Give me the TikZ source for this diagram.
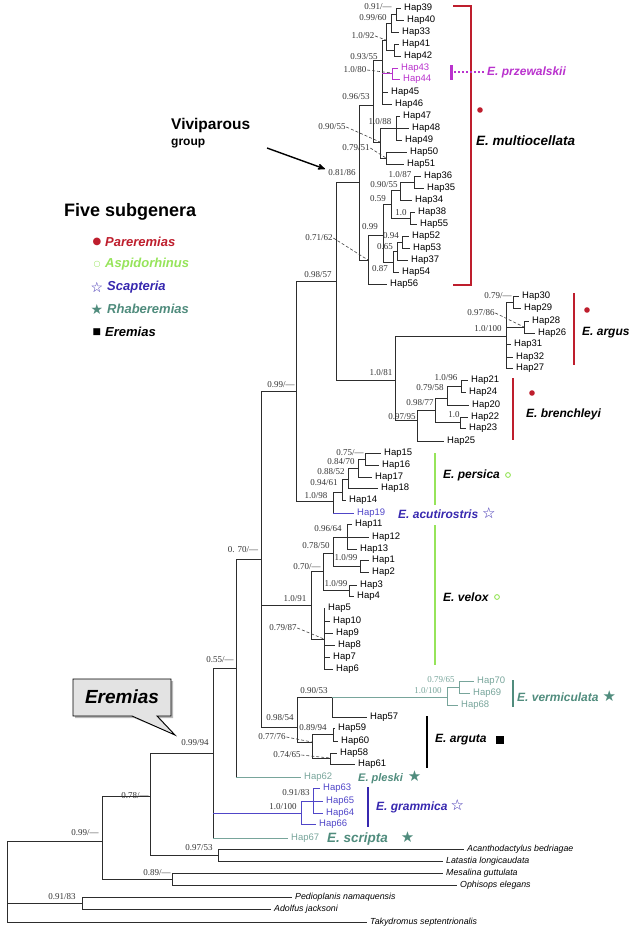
\documentclass[tikz,border=0pt]{standalone}
\usepackage{fontspec}
\setmainfont{Liberation Serif}
\setsansfont{Liberation Sans}
\newfontfamily\symfont{DejaVu Sans}
\usepackage{xcolor}
\usetikzlibrary{arrows}

\definecolor{parred}{RGB}{190,30,45}
\definecolor{aspgreen}{RGB}{150,228,90}
\definecolor{scapblue}{RGB}{55,40,175}
\definecolor{hapblue}{RGB}{80,70,200}
\definecolor{rhateal}{RGB}{80,140,125}
\definecolor{haptel}{RGB}{120,165,155}
\definecolor{prz}{RGB}{185,50,205}
\definecolor{brgray}{RGB}{45,45,45}

\newcommand{\bigstar}{{\symfont\fontsize{15}{15}\selectfont ★}}
\newcommand{\bigwstar}{{\symfont\fontsize{15}{15}\selectfont ☆}}

\tikzset{
  br/.style={line width=0.8pt, draw=brgray},
  hap/.style={anchor=west, inner xsep=3pt, inner ysep=0.5pt, font=\sffamily\fontsize{9.5}{10}\selectfont},
  og/.style={anchor=west, inner xsep=3pt, inner ysep=0.5pt, font=\sffamily\itshape\fontsize{8.8}{9}\selectfont},
  sup/.style={inner sep=0.5pt, font=\fontsize{9}{9}\selectfont, text=black!80},
  ptr/.style={densely dashed, line width=0.6pt, draw=black!75},
  grp/.style={anchor=west, inner sep=0pt, font=\sffamily\bfseries\itshape\fontsize{12}{13}\selectfont},
  lgt/.style={anchor=west, inner sep=0pt, font=\sffamily\bfseries\itshape\fontsize{13}{14}\selectfont},
  bar/.style={line width=2.4pt},
}

\begin{document}
\begin{tikzpicture}[x=1pt, y=-1pt]
    \useasboundingbox (0,0) rectangle (638,930);

    % 内部节点
    \coordinate (root) at (7,882);
    \coordinate (nIn) at (102,841);
    \coordinate (nPA) at (82,903);
    \coordinate (nMO) at (172,879);
    \coordinate (nE1) at (150,796);
    \coordinate (nAL) at (218,855);
    \coordinate (nEr) at (213,753);
    \coordinate (n055) at (236,668);
    \coordinate (nGr) at (301,813);
    \coordinate (nGr1) at (313,801);
    \coordinate (n070) at (261,559);
    \coordinate (n099) at (296,391);
    \coordinate (nVx) at (311,605);
    \coordinate (nAV) at (297,727);
    \coordinate (nViv) at (336,281);
    \coordinate (nPe) at (333,501);
    \coordinate (nMu) at (359,182);
    \coordinate (nAB) at (395,380);
    \coordinate (nM1) at (373,105);
    \coordinate (nM2) at (368,260);
    \coordinate (nU) at (382,60);
    \coordinate (nL) at (380,142);
    \coordinate (nD) at (386,40);
    \coordinate (nB) at (391,23);
    \coordinate (nA) at (396,14);
    \coordinate (nC) at (394,50);
    \coordinate (nE) at (392,73);
    \coordinate (nL1) at (396,128);
    \coordinate (nL2) at (386,158);
    \coordinate (nM2a) at (383,235);
    \coordinate (n059) at (391,204);
    \coordinate (n090) at (400,190);
    \coordinate (n1087) at (414,182);
    \coordinate (n10) at (410,218);
    \coordinate (n087) at (393,262);
    \coordinate (n065) at (397,251);
    \coordinate (n094) at (402,242);
    \coordinate (nAr) at (506,336);
    \coordinate (nAr1) at (513,302);
    \coordinate (nAr2) at (524,327);
    \coordinate (nBr) at (417,420);
    \coordinate (nBr1) at (435,410);
    \coordinate (nBr2) at (447,398);
    \coordinate (nBr3) at (460,422);
    \coordinate (nBr4) at (461,386);
    \coordinate (nPe1) at (342,492);
    \coordinate (nPe2) at (348,479);
    \coordinate (nPe3) at (358,468);
    \coordinate (nPe4) at (365,459);
    \coordinate (nV1) at (323,571);
    \coordinate (nV2) at (324,639);
    \coordinate (nV3) at (333,553);
    \coordinate (nV4) at (349,590);
    \coordinate (nV5) at (347,537);
    \coordinate (nV6) at (360,566);
    \coordinate (nVe0) at (332,697);
    \coordinate (nVe) at (447,697);
    \coordinate (nVe1) at (459,687);
    \coordinate (nAg) at (312,742);
    \coordinate (nAg1) at (333,734);
    \coordinate (nAg2) at (330,758);

    % 单倍型
    \node[hap] (h39) at (401,8) {Hap39};
    \node[hap] (h40) at (404,20) {Hap40};
    \node[hap] (h33) at (399,32) {Hap33};
    \node[hap] (h41) at (399,44) {Hap41};
    \node[hap] (h42) at (401,56) {Hap42};
    \node[hap, text=prz] (h43) at (398,68) {Hap43};
    \node[hap, text=prz] (h44) at (400,79) {Hap44};
    \node[hap] (h45) at (388,92) {Hap45};
    \node[hap] (h46) at (392,104) {Hap46};
    \node[hap] (h47) at (400,116) {Hap47};
    \node[hap] (h48) at (409,128) {Hap48};
    \node[hap] (h49) at (402,140) {Hap49};
    \node[hap] (h50) at (407,152) {Hap50};
    \node[hap] (h51) at (404,164) {Hap51};
    \node[hap] (h36) at (421,176) {Hap36};
    \node[hap] (h35) at (424,188) {Hap35};
    \node[hap] (h34) at (412,200) {Hap34};
    \node[hap] (h38) at (415,212) {Hap38};
    \node[hap] (h55) at (417,224) {Hap55};
    \node[hap] (h52) at (409,236) {Hap52};
    \node[hap] (h53) at (410,248) {Hap53};
    \node[hap] (h37) at (408,260) {Hap37};
    \node[hap] (h54) at (399,272) {Hap54};
    \node[hap] (h56) at (387,284) {Hap56};
    \node[hap] (h30) at (519,296) {Hap30};
    \node[hap] (h29) at (521,308) {Hap29};
    \node[hap] (h28) at (529,321) {Hap28};
    \node[hap] (h26) at (535,333) {Hap26};
    \node[hap] (h31) at (511,344) {Hap31};
    \node[hap] (h32) at (513,357) {Hap32};
    \node[hap] (h27) at (513,368) {Hap27};
    \node[hap] (h21) at (468,380) {Hap21};
    \node[hap] (h24) at (466,392) {Hap24};
    \node[hap] (h20) at (469,405) {Hap20};
    \node[hap] (h22) at (468,417) {Hap22};
    \node[hap] (h23) at (466,428) {Hap23};
    \node[hap] (h25) at (444,441) {Hap25};
    \node[hap] (h15) at (381,453) {Hap15};
    \node[hap] (h16) at (379,465) {Hap16};
    \node[hap] (h17) at (372,477) {Hap17};
    \node[hap] (h18) at (378,488) {Hap18};
    \node[hap] (h14) at (346,500) {Hap14};
    \node[hap, text=hapblue] (h19) at (354,513) {Hap19};
    \node[hap] (h11) at (352,524) {Hap11};
    \node[hap] (h12) at (369,537) {Hap12};
    \node[hap] (h13) at (357,549) {Hap13};
    \node[hap] (h1) at (369,560) {Hap1};
    \node[hap] (h2) at (369,572) {Hap2};
    \node[hap] (h3) at (357,585) {Hap3};
    \node[hap] (h4) at (354,596) {Hap4};
    \node[hap] (h5) at (325,608) {Hap5};
    \node[hap] (h10) at (330,621) {Hap10};
    \node[hap] (h9) at (333,633) {Hap9};
    \node[hap] (h8) at (335,645) {Hap8};
    \node[hap] (h7) at (330,657) {Hap7};
    \node[hap] (h6) at (333,669) {Hap6};
    \node[hap, text=haptel] (h70) at (474,681) {Hap70};
    \node[hap, text=haptel] (h69) at (470,693) {Hap69};
    \node[hap, text=haptel] (h68) at (458,705) {Hap68};
    \node[hap] (h57) at (367,717) {Hap57};
    \node[hap] (h59) at (335,728) {Hap59};
    \node[hap] (h60) at (338,741) {Hap60};
    \node[hap] (h58) at (337,753) {Hap58};
    \node[hap] (h61) at (355,764) {Hap61};
    \node[hap, text=haptel] (h62) at (301,777) {Hap62};
    \node[hap, text=hapblue] (h63) at (320,788) {Hap63};
    \node[hap, text=hapblue] (h65) at (323,801) {Hap65};
    \node[hap, text=hapblue] (h64) at (323,813) {Hap64};
    \node[hap, text=hapblue] (h66) at (316,824) {Hap66};
    \node[hap, text=haptel] (h67) at (288,838) {Hap67};

    % 外群
    \node[og] (oAc) at (464,849) {Acanthodactylus bedriagae};
    \node[og] (oLa) at (443,861) {Latastia longicaudata};
    \node[og] (oMe) at (443,873) {Mesalina guttulata};
    \node[og] (oOp) at (457,885) {Ophisops elegans};
    \node[og] (oPe) at (292,897) {Pedioplanis namaquensis};
    \node[og] (oAd) at (271,909) {Adolfus jacksoni};
    \node[og] (oTa) at (367,922) {Takydromus septentrionalis};

    % multiocellata 分支
    \draw[br] (nA) |- (h39.west) (nA) |- (h40.west);
    \draw[br] (nB) |- (nA) (nB) |- (h33.west);
    \draw[br] (nC) |- (h41.west) (nC) |- (h42.west);
    \draw[br] (nD) |- (nB) (nD) |- (nC);
    \draw[br] (nU) |- (nD) (nU) |- (nE) (nU) |- (h45.west) (nU) |- (h46.west);
    \draw[br, draw=prz] (nU |- nE) -- (nE);
    \draw[br, draw=prz] (nE) |- (h43.west) (nE) |- (h44.west);
    \draw[br] (nM1) |- (nU) (nM1) |- (nL);
    \draw[br] (nL) |- (nL1) (nL) |- (nL2);
    \draw[br] (nL1) |- (h47.west) (nL1) |- (h48.west) (nL1) |- (h49.west);
    \draw[br] (nL2) |- (h50.west) (nL2) |- (h51.west);
    \draw[br] (nMu) |- (nM1) (nMu) |- (nM2);
    \draw[br] (nM2) |- (nM2a) (nM2) |- (h56.west);
    \draw[br] (nM2a) |- (n059) (nM2a) |- (n087);
    \draw[br] (n059) |- (n090) (n059) |- (n10);
    \draw[br] (n090) |- (n1087) (n090) |- (h34.west);
    \draw[br] (n1087) |- (h36.west) (n1087) |- (h35.west);
    \draw[br] (n10) |- (h38.west) (n10) |- (h55.west);
    \draw[br] (n087) |- (n065) (n087) |- (h54.west);
    \draw[br] (n065) |- (n094) (n065) |- (h37.west);
    \draw[br] (n094) |- (h52.west) (n094) |- (h53.west);

    % argus 和 brenchleyi
    \draw[br] (nViv) |- (nMu) (nViv) |- (nAB);
    \draw[br] (nAB) |- (nAr) (nAB) |- (nBr);
    \draw[br] (nAr) |- (nAr1) (nAr) |- (nAr2) (nAr) |- (h31.west) (nAr) |- (h32.west) (nAr) |- (h27.west);
    \draw[br] (nAr1) |- (h30.west) (nAr1) |- (h29.west);
    \draw[br] (nAr2) |- (h28.west) (nAr2) |- (h26.west);
    \draw[br] (nBr) |- (nBr1) (nBr) |- (h25.west);
    \draw[br] (nBr1) |- (nBr2) (nBr1) |- (nBr3);
    \draw[br] (nBr2) |- (nBr4) (nBr2) |- (h20.west);
    \draw[br] (nBr4) |- (h21.west) (nBr4) |- (h24.west);
    \draw[br] (nBr3) |- (h22.west) (nBr3) |- (h23.west);

    % persica 和 velox
    \draw[br] (n099) |- (nViv) (n099) |- (nPe);
    \draw[br] (nPe) |- (nPe1) (nPe) |- (h19.west);
    \draw[br, draw=hapblue] (nPe |- h19.west) -- (h19.west);
    \draw[br] (nPe1) |- (nPe2) (nPe1) |- (h14.west);
    \draw[br] (nPe2) |- (nPe3) (nPe2) |- (h18.west);
    \draw[br] (nPe3) |- (nPe4) (nPe3) |- (h17.west);
    \draw[br] (nPe4) |- (h15.west) (nPe4) |- (h16.west);
    \draw[br] (n070) |- (n099) (n070) |- (nVx) (n070) |- (nAV);
    \draw[br] (nVx) |- (nV1) (nVx) |- (nV2);
    \draw[br] (nV1) |- (nV3) (nV1) |- (nV4);
    \draw[br] (nV3) |- (nV5) (nV3) |- (nV6);
    \draw[br] (nV5) |- (h11.west) (nV5) |- (h12.west) (nV5) |- (h13.west);
    \draw[br] (nV6) |- (h1.west) (nV6) |- (h2.west);
    \draw[br] (nV4) |- (h3.west) (nV4) |- (h4.west);
    \draw[br] (nV2) |- (h5.west) (nV2) |- (h10.west) (nV2) |- (h9.west)
        (nV2) |- (h8.west) (nV2) |- (h7.west) (nV2) |- (h6.west);

    % vermiculata 和 arguta
    \draw[br] (nAV) |- (nVe0) (nAV) |- (nAg);
    \draw[br] (nVe0) |- (h57.west);
    \draw[br, draw=haptel] (nVe0) -- (nVe);
    \draw[br, draw=haptel] (nVe) |- (nVe1) (nVe) |- (h68.west);
    \draw[br, draw=haptel] (nVe1) |- (h70.west) (nVe1) |- (h69.west);
    \draw[br] (nAg) |- (nAg1) (nAg) |- (nAg2);
    \draw[br] (nAg1) |- (h59.west) (nAg1) |- (h60.west);
    \draw[br] (nAg2) |- (h58.west) (nAg2) |- (h61.west);

    % 基部
    \draw[br] (n055) |- (n070) (n055) |- (h62.west);
    \draw[br, draw=haptel] (n055 |- h62.west) -- (h62.west);
    \draw[br] (nEr) |- (n055) (nEr) |- (nGr) (nEr) |- (h67.west);
    \draw[br, draw=hapblue] (nEr |- nGr) -- (nGr);
    \draw[br, draw=haptel] (nEr |- h67.west) -- (h67.west);
    \draw[br, draw=hapblue] (nGr) |- (nGr1) (nGr) |- (h66.west);
    \draw[br, draw=hapblue] (nGr1) |- (h63.west) (nGr1) |- (h65.west) (nGr1) |- (h64.west);
    \draw[br] (nE1) |- (nEr) (nE1) |- (nAL);
    \draw[br] (nAL) |- (oAc.west) (nAL) |- (oLa.west);
    \draw[br] (nIn) |- (nE1) (nIn) |- (nMO);
    \draw[br] (nMO) |- (oMe.west) (nMO) |- (oOp.west);
    \draw[br] (root) |- (nIn) (root) |- (nPA) (root) |- (oTa.west);
    \draw[br] (nPA) |- (oPe.west) (nPA) |- (oAd.west);

    % 支持率
    \node[sup] (sA) at (378,7) {0.91/—};
    \node[sup] (sB) at (373,18) {0.99/60};
    \node[sup] (sD) at (363,36) {1.0/92};
    \node[sup] (sU) at (364,57) {0.93/55};
    \node[sup] (sE) at (355,70) {1.0/80};
    \node[sup] (sM1) at (356,97) {0.96/53};
    \node[sup] (sL1) at (380,122) {1.0/88};
    \node[sup] (sL) at (332,127) {0.90/55};
    \node[sup] (sL2) at (356,148) {0.79/51};
    \node[sup] (sMu) at (342,173) {0.81/86};
    \node[sup] (s1087) at (400,175) {1.0/87};
    \node[sup] (s090) at (384,185) {0.90/55};
    \node[sup] (s059) at (378,199) {0.59};
    \node[sup] (s10) at (401,213) {1.0};
    \node[sup] (sM2a) at (370,227) {0.99};
    \node[sup] (s094) at (391,236) {0.94};
    \node[sup] (sM2) at (319,238) {0.71/62};
    \node[sup] (s065) at (385,247) {0.65};
    \node[sup] (s087) at (380,269) {0.87};
    \node[sup] (sViv) at (318,275) {0.98/57};
    \node[sup] (sAr1) at (498,296) {0.79/—};
    \node[sup] (sAr2) at (481,313) {0.97/86};
    \node[sup] (sAr) at (488,329) {1.0/100};
    \node[sup] (sAB) at (381,373) {1.0/81};
    \node[sup] (sBr4) at (446,378) {1.0/96};
    \node[sup] (s099) at (281,385) {0.99/—};
    \node[sup] (sBr2) at (430,388) {0.79/58};
    \node[sup] (sBr1) at (420,403) {0.98/77};
    \node[sup] (sBr3) at (454,415) {1.0};
    \node[sup] (sBr) at (402,417) {0.97/95};
    \node[sup] (sPe4) at (350,453) {0.75/—};
    \node[sup] (sPe3) at (341,462) {0.84/70};
    \node[sup] (sPe2) at (331,472) {0.88/52};
    \node[sup] (sPe1) at (324,483) {0.94/61};
    \node[sup] (sPe) at (316,496) {1.0/98};
    \node[sup] (sV5) at (328,529) {0.96/64};
    \node[sup] (sV3) at (316,546) {0.78/50};
    \node[sup] (s070) at (243,550) {0. 70/—};
    \node[sup] (sV6) at (346,558) {1.0/99};
    \node[sup] (sV1) at (307,567) {0.70/—};
    \node[sup] (sV4) at (336,584) {1.0/99};
    \node[sup] (sVx) at (295,599) {1.0/91};
    \node[sup] (sV2) at (283,628) {0.79/87};
    \node[sup] (s055) at (220,660) {0.55/—};
    \node[sup, text=haptel] (sVe1) at (441,680) {0.79/65};
    \node[sup, text=haptel] (sVe) at (428,691) {1.0/100};
    \node[sup] (sVe0) at (314,691) {0.90/53};
    \node[sup] (sAV) at (280,718) {0.98/54};
    \node[sup] (sAg1) at (313,728) {0.89/94};
    \node[sup] (sAg) at (272,737) {0.77/76};
    \node[sup] (sEr) at (195,743) {0.99/94};
    \node[sup] (sAg2) at (287,755) {0.74/65};
    \node[sup] (sGr1) at (296,793) {0.91/83};
    \node[sup] (sE1) at (135,796) {0.78/—};
    \node[sup] (sGr) at (283,807) {1.0/100};
    \node[sup] (sIn) at (85,833) {0.99/—};
    \node[sup] (sAL) at (199,848) {0.97/53};
    \node[sup] (sMO) at (157,873) {0.89/—};
    \node[sup] (sPA) at (62,897) {0.91/83};

    % 虚线指示
    \draw[ptr] (sD.east) -- (nD);
    \draw[ptr] (sE.east) -- (nE);
    \draw[ptr] (sL.east) -- (nL);
    \draw[ptr] (sL2.east) -- (nL2);
    \draw[ptr] (sM2.east) -- (nM2);
    \draw[ptr] (sAr2.east) -- (nAr2);
    \draw[ptr] (sV2.east) -- (nV2);
    \draw[ptr] (sAg.east) -- (nAg);
    \draw[ptr] (sAg2.east) -- (nAg2);

    % 物种标注
    \draw[bar, parred] (453,6) -- (471,6) -- (471,285) -- (453,285);
    \fill[parred] (480,110) circle (2.8);
    \node[grp, font=\sffamily\bfseries\itshape\fontsize{13.5}{14}\selectfont] (tmul) at (476,141) {E. multiocellata};
    \draw[line width=3pt, prz] (451,65) -- (451,80);
    \draw[prz, line width=1.6pt, dash pattern=on 1.6pt off 2.4pt] (454,72) -- (484,72);
    \node[grp, text=prz] (tprz) at (487,72) {E. przewalskii};
    \draw[bar, parred] (574,293) -- (574,365);
    \fill[parred] (587,310) circle (2.8);
    \node[grp] (targ) at (582,333) {E. argus};
    \draw[bar, parred] (513,378) -- (513,440);
    \fill[parred] (532,393) circle (2.8);
    \node[grp] (tbre) at (526,414) {E. brenchleyi};
    \draw[bar, aspgreen] (435,453) -- (435,505);
    \draw[aspgreen, line width=0.9pt] (508,475) circle (2.4);
    \node[grp] (tper) at (443,475) {E. persica};
    \node[grp, text=scapblue] (tacu) at (398,513) {E. acutirostris\hspace{4pt}\bigwstar};
    \draw[bar, aspgreen] (435,525) -- (435,665);
    \draw[aspgreen, line width=0.9pt] (497,597) circle (2.4);
    \node[grp] (tvel) at (443,597) {E. velox};
    \draw[bar, rhateal] (513,680) -- (513,707);
    \node[grp, text=rhateal] (tver) at (517,696) {E. vermiculata\hspace{4pt}\bigstar};
    \draw[bar, black] (427,716) -- (427,768);
    \node[grp] (tagu) at (435,740) {E. arguta};
    \fill[black] (496,736) rectangle (504,744);
    \node[grp, text=rhateal, font=\sffamily\bfseries\itshape\fontsize{11}{12}\selectfont] (tple) at (358,777) {E. pleski\hspace{5pt}\bigstar};
    \draw[bar, scapblue] (368,787) -- (368,827);
    \node[grp, text=scapblue] (tgra) at (376,806) {E. grammica\hspace{3pt}\bigwstar};
    \node[grp, text=rhateal, font=\sffamily\bfseries\itshape\fontsize{13.5}{14}\selectfont] (tscr) at (327,838) {E. scripta\hspace{13pt}\bigstar};

    % 图例
    \node[anchor=west, inner sep=0pt, font=\sffamily\bfseries\fontsize{18}{20}\selectfont] (five) at (64,212) {Five subgenera};
    \node[inner sep=0pt, text=parred, font=\symfont\fontsize{10}{10}\selectfont] (m1) at (97,242) {●};
    \node[lgt, text=parred] (l1) at (105,242) {Pareremias};
    \node[inner sep=0pt, text=aspgreen, font=\symfont\fontsize{8}{8}\selectfont] (m2) at (97,264) {○};
    \node[lgt, text=aspgreen] (l2) at (105,264) {Aspidorhinus};
    \node[inner sep=0pt, text=scapblue, font=\symfont\fontsize{14}{14}\selectfont] (m3) at (97,287) {☆};
    \node[lgt, text=scapblue] (l3) at (107,287) {Scapteria};
    \node[inner sep=0pt, text=rhateal, font=\symfont\fontsize{14}{14}\selectfont] (m4) at (97,309) {★};
    \node[lgt, text=rhateal] (l4) at (107,309) {Rhaberemias};
    \node[inner sep=0pt, font=\symfont\fontsize{9}{9}\selectfont] (m5) at (97,332) {■};
    \node[lgt] (l5) at (105,332) {Eremias};

    % 胎生类群
    \node[anchor=west, inner sep=0pt, font=\sffamily\bfseries\fontsize{15.5}{16}\selectfont] (vivi) at (171,125) {Viviparous};
    \node[anchor=west, inner sep=0pt, font=\sffamily\bfseries\fontsize{12}{13}\selectfont] (vgrp) at (171,144) {group};
    \coordinate (vivS) at (267,148);
    \coordinate (vivE) at (325,169);
    \draw[-stealth', line width=1.4pt] (vivS) -- (vivE);

    % Eremias 标注框
    \fill[gray!55] (75,681) -- (173,681) -- (173,718) -- (160,718) -- (175,735) -- (134,718) -- (75,718) -- cycle;
    \draw[fill=gray!22, line width=0.9pt] (73,679) -- (171,679) -- (171,716) -- (157,716)
        -- (175,735) -- (132,716) -- (73,716) -- cycle;
    \node[font=\sffamily\bfseries\itshape\fontsize{19}{20}\selectfont] (erem) at (122,697) {Eremias};

\end{tikzpicture}
\end{document}
